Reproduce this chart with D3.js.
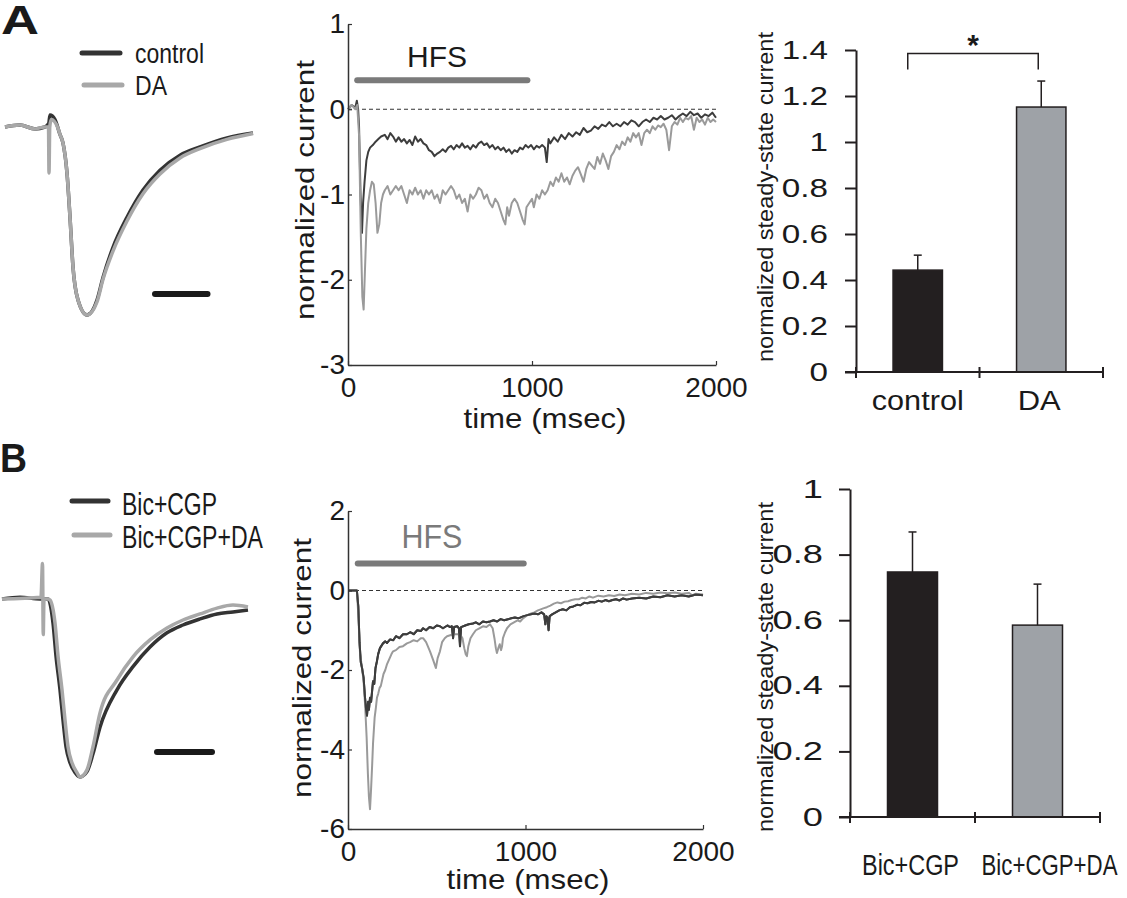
<!DOCTYPE html>
<html><head><meta charset="utf-8">
<script src="https://cdn.jsdelivr.net/npm/d3@7"></script>
<style>
body{margin:0;background:#fff}
svg{display:block}
text{font-family:"Liberation Sans",Arial,sans-serif;fill:#1a1a1a}
</style>
</head><body>
<svg id="fig" width="1127" height="898"></svg>
<script>
// ---------------- DATA ----------------
// Panel A left: example EPSC traces (time ms, normalized amplitude)
const epscA_control = [[0,0],[6,0.01],[12,-0.01],[16,0],[17.5,0.02],[18,0.064],[20,0.04],[22,-0.04],[23.2,-0.085],[24.8,-0.245],[26,-0.48],[27.2,-0.745],[29.2,-0.92],[32.8,-1],[36.8,-0.92],[39.2,-0.8],[43.2,-0.64],[48.8,-0.48],[55.2,-0.335],[62,-0.23],[70,-0.15],[78,-0.106],[88.8,-0.058],[99.2,-0.032]];
const epscA_DA = [[0,0],[6,0.01],[12,-0.01],[16,0],[17.4,0],[17.6,-0.245],[17.9,0],[18.5,0.04],[21,0],[22,-0.04],[23.2,-0.085],[24.8,-0.245],[26,-0.48],[27.2,-0.745],[29.2,-0.92],[32.8,-1],[36.8,-0.93],[39.2,-0.81],[43.2,-0.66],[48.8,-0.5],[55.2,-0.355],[62,-0.25],[70,-0.165],[78,-0.115],[88.8,-0.066],[99.2,-0.035]];
const epscA_scaleBar = [60, 81];
// Panel B left
const epscB_BicCGP = [[0,0],[7.2,0.01],[15.2,0],[18.4,0],[20.4,-0.135],[21.6,-0.32],[23.2,-0.51],[24.4,-0.68],[25.6,-0.83],[27.2,-0.92],[29.2,-0.975],[31.2,-1],[34,-0.97],[36.4,-0.87],[39.2,-0.72],[46,-0.51],[52.4,-0.38],[59.2,-0.27],[66,-0.19],[72.4,-0.146],[79.2,-0.112],[86,-0.084],[92.4,-0.073],[98.4,-0.062]];
const epscB_BicCGPDA = [[0,0],[15.6,0.01],[16.2,0.2],[16.5,-0.2],[16.8,0],[18.4,0],[19.2,-0.006],[21.2,-0.135],[22.4,-0.32],[24,-0.51],[25.2,-0.68],[26.4,-0.83],[28,-0.92],[30,-0.975],[31.2,-1],[34,-0.96],[36.4,-0.83],[39.2,-0.64],[46,-0.455],[52.4,-0.325],[59.2,-0.23],[66,-0.163],[72.4,-0.118],[79.2,-0.084],[86,-0.051],[92.4,-0.034],[98.4,-0.045]];
const epscB_scaleBar = [62, 84];

// Panel A middle: normalized current during HFS (time msec, current)
const hfsA_control = [[0,0],[20,0.05],[40,0.02],[48,0.1],[55,0],[60,-0.2],[68,-1.0],[76,-1.45],[82,-1.1],[90,-0.85],[100,-0.6],[110,-0.5],[120,-0.45],[135,-0.42],[150,-0.38],[165,-0.35],[180,-0.32],[200,-0.3],[215,-0.35],[230,-0.28],[245,-0.32],[260,-0.38],[275,-0.33],[290,-0.38],[305,-0.35],[320,-0.4],[335,-0.36],[350,-0.42],[365,-0.32],[380,-0.38],[395,-0.35],[410,-0.4],[425,-0.42],[440,-0.48],[455,-0.5],[470,-0.55],[485,-0.52],[500,-0.5],[515,-0.47],[530,-0.5],[545,-0.45],[560,-0.43],[575,-0.47],[590,-0.42],[605,-0.45],[620,-0.4],[635,-0.45],[650,-0.43],[665,-0.47],[680,-0.42],[695,-0.45],[710,-0.4],[725,-0.38],[740,-0.42],[755,-0.4],[770,-0.45],[785,-0.42],[800,-0.47],[815,-0.44],[830,-0.48],[845,-0.45],[860,-0.5],[875,-0.47],[890,-0.52],[905,-0.48],[920,-0.5],[935,-0.45],[950,-0.47],[965,-0.42],[980,-0.45],[995,-0.42],[1010,-0.47],[1025,-0.43],[1040,-0.45],[1055,-0.42],[1070,-0.45],[1080,-0.62],[1090,-0.35],[1100,-0.4],[1120,-0.33],[1140,-0.38],[1160,-0.3],[1180,-0.35],[1200,-0.28],[1220,-0.32],[1240,-0.27],[1260,-0.3],[1280,-0.22],[1300,-0.27],[1320,-0.25],[1340,-0.2],[1360,-0.23],[1380,-0.18],[1400,-0.2],[1420,-0.15],[1440,-0.2],[1460,-0.17],[1480,-0.2],[1500,-0.15],[1520,-0.18],[1540,-0.13],[1560,-0.15],[1580,-0.2],[1600,-0.15],[1620,-0.12],[1640,-0.15],[1660,-0.1],[1680,-0.12],[1700,-0.08],[1720,-0.12],[1740,-0.1],[1760,-0.07],[1780,-0.12],[1800,-0.08],[1820,-0.05],[1840,-0.08],[1860,-0.03],[1880,-0.07],[1900,-0.05],[1920,-0.1],[1940,-0.06],[1960,-0.08],[1980,-0.04],[2000,-0.1]];
const hfsA_DA = [[0,0],[20,0.05],[40,0],[50,0.05],[60,-0.3],[70,-1.5],[78,-2.2],[85,-2.35],[92,-1.9],[100,-1.4],[110,-1.1],[120,-0.95],[130,-0.85],[140,-0.88],[150,-1.1],[160,-1.45],[170,-1.35],[180,-1.1],[190,-1.0],[200,-0.95],[215,-0.9],[230,-1.0],[245,-0.95],[260,-0.9],[275,-0.95],[290,-0.9],[305,-1.0],[320,-1.1],[335,-0.95],[350,-1.0],[365,-0.92],[380,-1.0],[395,-0.95],[410,-1.05],[425,-0.95],[440,-1.0],[455,-0.95],[470,-1.05],[485,-1.0],[500,-1.1],[515,-0.95],[530,-1.0],[545,-0.95],[560,-0.9],[575,-0.95],[590,-1.05],[605,-1.0],[620,-1.1],[635,-1.05],[650,-1.2],[665,-1.0],[680,-1.05],[695,-1.0],[710,-0.92],[725,-0.95],[740,-1.05],[755,-1.0],[770,-1.1],[785,-1.15],[800,-1.05],[815,-1.1],[830,-1.2],[845,-1.3],[855,-1.35],[865,-1.15],[875,-1.25],[890,-1.1],[905,-1.05],[920,-1.1],[935,-1.2],[950,-1.3],[960,-1.35],[970,-1.15],[985,-1.1],[1000,-1.05],[1010,-1.15],[1025,-1.0],[1040,-1.05],[1055,-0.95],[1070,-1.0],[1085,-0.95],[1100,-0.85],[1115,-0.9],[1130,-0.8],[1145,-0.85],[1160,-0.75],[1175,-0.85],[1190,-0.8],[1205,-0.88],[1220,-0.78],[1235,-0.72],[1250,-0.68],[1265,-0.76],[1280,-0.85],[1295,-0.7],[1310,-0.62],[1325,-0.66],[1340,-0.7],[1355,-0.56],[1370,-0.64],[1385,-0.52],[1400,-0.6],[1415,-0.7],[1430,-0.55],[1445,-0.5],[1460,-0.42],[1475,-0.47],[1490,-0.38],[1505,-0.42],[1520,-0.33],[1535,-0.38],[1550,-0.28],[1565,-0.33],[1580,-0.28],[1595,-0.42],[1610,-0.28],[1625,-0.24],[1640,-0.28],[1655,-0.2],[1670,-0.24],[1685,-0.19],[1700,-0.21],[1715,-0.17],[1730,-0.24],[1745,-0.48],[1760,-0.2],[1775,-0.15],[1790,-0.18],[1805,-0.1],[1820,-0.15],[1835,-0.1],[1850,-0.12],[1865,-0.08],[1880,-0.24],[1895,-0.1],[1910,-0.15],[1925,-0.12],[1940,-0.18],[1955,-0.1],[1970,-0.15],[1985,-0.12],[2000,-0.15]];
// Panel B middle
const hfsB_BicCGP = [[0,0],[50,0],[58,-0.4],[65,-1.3],[72,-1.8],[79,-1.95],[88,-2.2],[96,-2.7],[102,-3.0],[107,-3.15],[113,-2.8],[118,-3.0],[124,-2.7],[130,-2.8],[141,-2.28],[148,-2.35],[155,-1.95],[163,-1.78],[170,-1.6],[180,-1.45],[190,-1.38],[197,-1.33],[210,-1.28],[220,-1.32],[237,-1.23],[255,-1.25],[270,-1.15],[290,-1.2],[310,-1.1],[332,-1.1],[350,-1.05],[370,-1.1],[390,-1.0],[410,-1.02],[423,-0.95],[440,-1.0],[460,-0.92],[480,-0.95],[500,-0.88],[518,-0.9],[535,-0.95],[560,-0.88],[575,-0.92],[585,-0.9],[592,-1.2],[598,-0.92],[615,-0.9],[625,-0.95],[631,-1.4],[637,-0.92],[660,-0.88],[680,-0.85],[704,-0.83],[720,-0.8],[740,-0.85],[760,-0.78],[780,-0.8],[800,-0.78],[820,-0.75],[840,-0.78],[860,-0.72],[880,-0.75],[896,-0.73],[920,-0.7],[940,-0.68],[960,-0.7],[986,-0.65],[1010,-0.62],[1030,-0.6],[1050,-0.58],[1070,-0.6],[1090,-0.55],[1105,-0.6],[1112,-0.85],[1118,-0.65],[1125,-0.7],[1130,-1.0],[1136,-0.65],[1150,-0.6],[1170,-0.55],[1190,-0.5],[1210,-0.47],[1230,-0.5],[1250,-0.42],[1270,-0.4],[1290,-0.36],[1310,-0.37],[1330,-0.31],[1350,-0.32],[1370,-0.29],[1390,-0.3],[1410,-0.26],[1430,-0.28],[1450,-0.24],[1470,-0.27],[1490,-0.24],[1510,-0.22],[1530,-0.25],[1550,-0.2],[1570,-0.23],[1600,-0.2],[1640,-0.18],[1680,-0.2],[1720,-0.15],[1760,-0.17],[1800,-0.12],[1840,-0.15],[1880,-0.12],[1920,-0.15],[1960,-0.1],[2000,-0.12]];
const hfsB_BicCGPDA = [[0,0],[50,0],[58,-0.6],[68,-1.6],[78,-1.9],[88,-2.3],[96,-2.85],[105,-3.7],[112,-4.6],[118,-5.2],[124,-5.5],[130,-5.0],[136,-4.4],[141,-3.85],[150,-3.2],[157,-2.95],[163,-2.7],[170,-2.6],[178,-2.45],[185,-2.4],[191,-2.28],[200,-2.1],[210,-2.0],[220,-1.85],[235,-1.7],[245,-1.6],[254,-1.53],[270,-1.5],[290,-1.42],[310,-1.4],[332,-1.33],[350,-1.3],[370,-1.25],[390,-1.28],[410,-1.2],[423,-1.2],[440,-1.3],[462,-1.53],[480,-1.75],[495,-1.95],[505,-1.7],[518,-1.53],[530,-1.3],[545,-1.2],[558,-1.15],[580,-1.12],[600,-1.1],[631,-1.1],[645,-1.2],[655,-1.45],[663,-1.6],[670,-1.65],[678,-1.4],[690,-1.2],[704,-1.1],[720,-1.0],[740,-0.95],[760,-0.9],[780,-0.92],[800,-0.85],[815,-0.95],[825,-1.2],[833,-1.45],[839,-1.57],[847,-1.45],[855,-1.35],[862,-1.5],[868,-1.4],[873,-1.2],[885,-1.05],[896,-0.95],[915,-0.85],[935,-0.8],[955,-0.75],[970,-0.78],[986,-0.7],[1010,-0.62],[1030,-0.58],[1050,-0.55],[1070,-0.5],[1082,-0.48],[1100,-0.45],[1120,-0.42],[1140,-0.38],[1160,-0.33],[1180,-0.3],[1200,-0.32],[1220,-0.28],[1240,-0.27],[1260,-0.24],[1280,-0.22],[1300,-0.22],[1320,-0.18],[1340,-0.2],[1360,-0.15],[1380,-0.18],[1410,-0.13],[1440,-0.15],[1470,-0.12],[1500,-0.14],[1530,-0.1],[1560,-0.12],[1600,-0.08],[1640,-0.1],[1680,-0.06],[1720,-0.08],[1760,-0.05],[1800,-0.07],[1840,-0.05],[1880,-0.08],[1920,-0.06],[1940,-0.12],[1960,-0.08],[2000,-0.1]];
const hfsA_period = [50, 975];
const hfsB_period = [55, 990];
const midA_yTicks = [-3, -2, -1, 0, 1];
const midB_yTicks = [-6, -4, -2, 0, 2];
const mid_xTicks = [0, 1000, 2000];

// Bar charts
const barA_categories = ["control", "DA"];
const barA_values = [0.443, 1.152];
const barA_errors = [0.065, 0.113];
const barA_yTicks = [0, 0.2, 0.4, 0.6, 0.8, 1, 1.2, 1.4];
const barB_categories = ["Bic+CGP", "Bic+CGP+DA"];
const barB_values = [0.747, 0.585];
const barB_errors = [0.122, 0.125];
const barB_yTicks = [0, 0.2, 0.4, 0.6, 0.8, 1];

// ---------------- DRAW ----------------
const svg = d3.select("#fig");
const DARK = "#333333", LIGHT = "#a8a8a8";
const MDARK = "#3d3d3d", MLIGHT = "#9a9a9a";

// panel letters
svg.append("text").attr("x", 1).attr("y", 34).attr("font-size", 40).attr("font-weight", "bold")
  .attr("textLength", 38).attr("lengthAdjust", "spacingAndGlyphs").text("A");
svg.append("text").attr("x", 0).attr("y", 472).attr("font-size", 40).attr("font-weight", "bold")
  .attr("textLength", 27).attr("lengthAdjust", "spacingAndGlyphs").text("B");

function stretchText(g, x, y, str, size, len, anchor, fill) {
  return g.append("text").attr("x", x).attr("y", y).attr("font-size", size)
    .attr("text-anchor", anchor || "start").attr("textLength", len)
    .attr("lengthAdjust", "spacingAndGlyphs").style("fill", fill || "#1a1a1a").text(str);
}

// ----- left EPSC traces -----
function epsc(cfg) {
  const g = svg.append("g");
  const x = d3.scaleLinear([0, 100], cfg.xr);
  const y = d3.scaleLinear([-1, 0], cfg.yr);
  const line = d3.line().curve(d3.curveMonotoneX).x(d => x(d[0])).y(d => y(d[1]));
  g.append("path").datum(cfg.dark).attr("d", line).attr("fill", "none")
    .attr("stroke", DARK).attr("stroke-width", 3.5).attr("stroke-linejoin", "round");
  g.append("path").datum(cfg.light).attr("d", line).attr("fill", "none")
    .attr("stroke", LIGHT).attr("stroke-width", 3.5).attr("stroke-linejoin", "round");
  g.append("line").attr("x1", x(cfg.bar[0])).attr("x2", x(cfg.bar[1]))
    .attr("y1", y(cfg.barY)).attr("y2", y(cfg.barY))
    .attr("stroke", "#1a1a1a").attr("stroke-width", 6).attr("stroke-linecap", "round");
  const L = cfg.legend;
  g.append("line").attr("x1", L.x1).attr("x2", L.x2).attr("y1", L.y1).attr("y2", L.y1)
    .attr("stroke", DARK).attr("stroke-width", 5).attr("stroke-linecap", "round");
  g.append("line").attr("x1", L.x1 + 2).attr("x2", L.x2 + 2).attr("y1", L.y2).attr("y2", L.y2)
    .attr("stroke", LIGHT).attr("stroke-width", 5).attr("stroke-linecap", "round");
  stretchText(g, L.tx, L.b1, L.t1, L.s1, L.w1);
  stretchText(g, L.tx, L.b2, L.t2, L.s2, L.w2);
}
epsc({xr: [5, 255], yr: [315, 127], dark: epscA_control, light: epscA_DA, bar: epscA_scaleBar, barY: -0.888,
  legend: {x1: 82, x2: 120, y1: 53, y2: 85, tx: 135, b1: 63, b2: 95, t1: "control", t2: "DA", s1: 27, s2: 28, w1: 69, w2: 32}});
epsc({xr: [2, 252], yr: [777, 599], dark: epscB_BicCGP, light: epscB_BicCGPDA, bar: epscB_scaleBar, barY: -0.86,
  legend: {x1: 72, x2: 108, y1: 501, y2: 535, tx: 122, b1: 515, b2: 548, t1: "Bic+CGP", t2: "Bic+CGP+DA", s1: 32, s2: 32, w1: 95, w2: 141}});

// ----- middle HFS plots -----
function hfsPlot(cfg) {
  const g = svg.append("g");
  const x = d3.scaleLinear([0, 2000], cfg.xr);
  const y = d3.scaleLinear(cfg.yd, cfg.yr);
  const line = d3.line().x(d => x(d[0])).y(d => y(d[1]));
  g.append("line").attr("x1", x(0)).attr("x2", x(2000)).attr("y1", y(0)).attr("y2", y(0))
    .attr("stroke", "#333").attr("stroke-width", 1).attr("stroke-dasharray", "4,3");
  g.append("path").datum(cfg.dark).attr("d", line).attr("fill", "none")
    .attr("stroke", MDARK).attr("stroke-width", 2).attr("stroke-linejoin", "round");
  g.append("path").datum(cfg.light).attr("d", line).attr("fill", "none")
    .attr("stroke", MLIGHT).attr("stroke-width", 2).attr("stroke-linejoin", "round");
  if (cfg.lightOnTop === false) {
    g.append("path").datum(cfg.dark).attr("d", line).attr("fill", "none")
      .attr("stroke", MDARK).attr("stroke-width", 2).attr("stroke-linejoin", "round");
  }
  g.append("line").attr("x1", x(cfg.period[0])).attr("x2", x(cfg.period[1]))
    .attr("y1", y(cfg.hfsY)).attr("y2", y(cfg.hfsY))
    .attr("stroke", "#7a7a7a").attr("stroke-width", 6).attr("stroke-linecap", "round");
  stretchText(g, x(cfg.hfsTx), y(cfg.hfsTy), "HFS", cfg.hfsSize, cfg.hfsLen, "middle", cfg.hfsColor);
  const fmt = d => String(d);
  const yAx = g.append("g").attr("transform", `translate(${cfg.xr[0]},0)`)
    .call(d3.axisLeft(y).tickValues(cfg.yTicks).tickSizeInner(-4).tickSizeOuter(0).tickPadding(3).tickFormat(fmt));
  const xAx = g.append("g").attr("transform", `translate(0,${cfg.yr[0]})`)
    .call(d3.axisBottom(x).tickValues(mid_xTicks).tickSizeInner(-4).tickSizeOuter(0).tickPadding(12).tickFormat(fmt));
  [yAx, xAx].forEach(a => {
    a.select(".domain").attr("stroke", "#333").attr("stroke-width", 1.5);
    a.selectAll(".tick line").attr("stroke", "#333").attr("stroke-width", 1.2);
    a.selectAll(".tick text").attr("font-size", 28).attr("font-family", "Liberation Sans, Arial, sans-serif").style("fill", "#1a1a1a");
  });
  stretchText(g, cfg.tlx, cfg.tly, "time (msec)", 28, 163, "middle");
  g.append("text").attr("transform", `translate(${cfg.ylx},${cfg.yly}) rotate(-90)`)
    .attr("font-size", 25).attr("text-anchor", "middle").attr("textLength", 260)
    .attr("lengthAdjust", "spacingAndGlyphs").text("normalized current");
}
hfsPlot({xr: [348, 716], yd: [-3, 1], yr: [365, 24], dark: hfsA_control, light: hfsA_DA, period: hfsA_period,
  hfsY: 0.34, hfsTx: 484, hfsTy: 0.49, hfsSize: 30, hfsLen: 60, hfsColor: "#1a1a1a", yTicks: midA_yTicks,
  tlx: 545, tly: 428, ylx: 314, yly: 190});
hfsPlot({xr: [348, 703], yd: [-6, 2], yr: [829, 511], dark: hfsB_BicCGP, light: hfsB_BicCGPDA, period: hfsB_period,
  hfsY: 0.68, hfsTx: 473, hfsTy: 1.08, hfsSize: 33, hfsLen: 61, hfsColor: "#7a7a7a", yTicks: midB_yTicks,
  tlx: 528, tly: 889, ylx: 311, yly: 668, lightOnTop: false});

// ----- bar charts -----
function barChart(cfg) {
  const g = svg.append("g");
  const x = d3.scaleBand(cfg.cats, cfg.xr).paddingInner(0.6).paddingOuter(0.3);
  const y = d3.scaleLinear([0, cfg.ymax], cfg.yr);
  const cols = ["#231f20", "#9ea2a7"];
  g.selectAll("rect.bar").data(cfg.cats).join("rect").attr("class", "bar")
    .attr("x", d => x(d)).attr("width", x.bandwidth())
    .attr("y", (d, i) => y(cfg.vals[i])).attr("height", (d, i) => y(0) - y(cfg.vals[i]))
    .attr("fill", (d, i) => cols[i]).attr("stroke", "#231f20").attr("stroke-width", 1.5);
  g.selectAll("g.err").data(cfg.cats).join("g").attr("class", "err").each(function(d, i) {
    const cx = x(d) + x.bandwidth() / 2;
    const e = d3.select(this);
    e.append("line").attr("x1", cx).attr("x2", cx).attr("y1", y(cfg.vals[i])).attr("y2", y(cfg.vals[i] + cfg.errs[i]))
      .attr("stroke", "#231f20").attr("stroke-width", 1.5);
    e.append("line").attr("x1", cx - 4).attr("x2", cx + 4).attr("y1", y(cfg.vals[i] + cfg.errs[i])).attr("y2", y(cfg.vals[i] + cfg.errs[i]))
      .attr("stroke", "#231f20").attr("stroke-width", 1.5);
  });
  const yAx = g.append("g").attr("transform", `translate(${cfg.xr[0]},0)`)
    .call(d3.axisLeft(y).tickValues(cfg.ticks).tickSizeInner(11).tickSizeOuter(0).tickFormat(d => String(d)));
  yAx.select(".domain").attr("stroke", "#231f20").attr("stroke-width", 2);
  yAx.selectAll(".tick line").attr("stroke", "#231f20").attr("stroke-width", 2);
  yAx.selectAll(".tick text").attr("x", null).attr("font-size", 25)
    .attr("font-family", "Liberation Sans, Arial, sans-serif").style("fill", "#1a1a1a")
    .attr("text-anchor", "end").attr("transform", `translate(${-cfg.labelGap},0) scale(${cfg.labelScale},1)`);
  g.append("line").attr("x1", cfg.xr[0] - 11).attr("x2", cfg.xr[1]).attr("y1", y(0)).attr("y2", y(0))
    .attr("stroke", "#231f20").attr("stroke-width", 2);
  const step = x.step();
  g.selectAll("line.bt").data(d3.range(cfg.cats.length + 1)).join("line").attr("class", "bt")
    .attr("x1", k => cfg.xr[0] + k * step).attr("x2", k => cfg.xr[0] + k * step)
    .attr("y1", y(0) - 5).attr("y2", y(0) + 6).attr("stroke", "#231f20").attr("stroke-width", 2);
  cfg.cats.forEach((c, i) => {
    stretchText(g, x(c) + x.bandwidth() / 2 + cfg.catDx[i], cfg.catY, c, cfg.catSize, cfg.catLen[i], "middle");
  });
  g.append("text").attr("transform", `translate(773,${cfg.ylabY}) rotate(-90)`)
    .attr("font-size", 22).attr("text-anchor", "middle").attr("textLength", 330)
    .attr("lengthAdjust", "spacingAndGlyphs").text("normalized steady-state current");
  if (cfg.sig) {
    const x1 = x(cfg.cats[0]) + x.bandwidth() / 2 - 10, x2 = x(cfg.cats[1]) + x.bandwidth() / 2 - 3;
    const top = y(cfg.sig.level), bot = y(cfg.sig.level - 0.07);
    g.append("path").attr("d", `M${x1},${bot}V${top}H${x2}V${bot}`).attr("fill", "none")
      .attr("stroke", "#231f20").attr("stroke-width", 1.5);
    g.append("text").attr("x", (x1 + x2) / 2).attr("y", top + 2).attr("text-anchor", "middle")
      .attr("font-size", 30).attr("font-weight", "bold").text("*");
  }
}
barChart({cats: barA_categories, vals: barA_values, errs: barA_errors, ticks: barA_yTicks, ymax: 1.4,
  xr: [856, 1103], yr: [372, 50], labelGap: 28, labelScale: 1.33, catY: 410, catSize: 27, catLen: [92, 43], catDx: [0, -2],
  ylabY: 197, sig: {level: 1.385}});
barChart({cats: barB_categories, vals: barB_values, errs: barB_errors, ticks: barB_yTicks, ymax: 1,
  xr: [850, 1100], yr: [817, 489], labelGap: 27, labelScale: 1.45, catY: 875, catSize: 30, catLen: [97, 136], catDx: [-2, 12],
  ylabY: 667});
</script>
</body></html>
